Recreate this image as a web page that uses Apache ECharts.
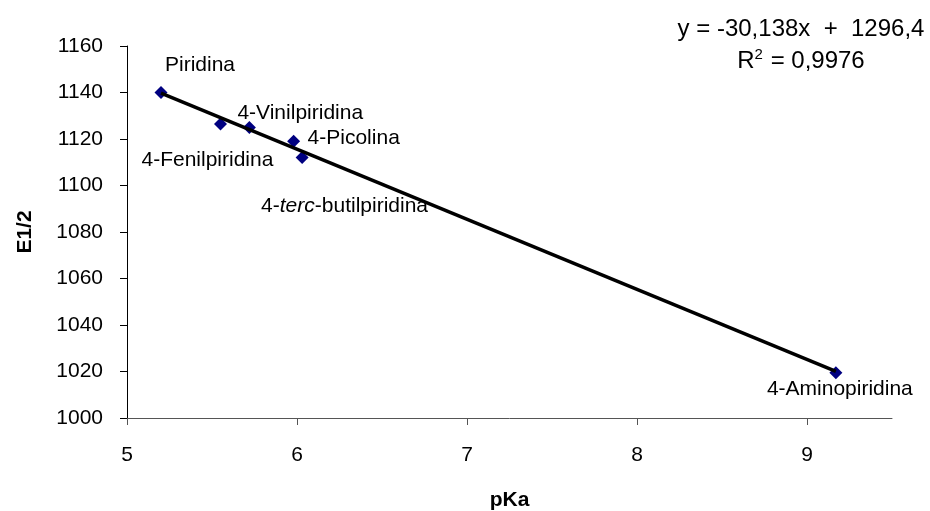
<!DOCTYPE html>
<html><head><meta charset="utf-8">
<script src="https://cdn.jsdelivr.net/npm/echarts@6/dist/echarts.min.js"></script>
<style>html,body{margin:0;padding:0;background:#fff}#c{width:930px;height:511px}</style>
</head><body><div id="c"></div>
<script>
const compounds = ['Piridina','4-Fenilpiridina','4-Vinilpiridina','4-Picolina','4-terc-butilpiridina','4-Aminopiridina'];
const pKa = [5.2, 5.55, 5.72, 5.98, 6.03, 9.17];
const e12 = [1140, 1126.5, 1125, 1119, 1112, 1019.5];
const xTicks = [5, 6, 7, 8, 9];
const slope = -30.138, intercept = 1296.4;
const eqLine1 = 'y = -30,138x  +  1296,4';
const eqLine2 = 'R{sup|2} = 0,9976';
const xName = 'pKa', yName = 'E1/2';

const labelOffsets = [[4,-27],[-79,36],[-12,-14],[14,-3],[-41,49],[-69,17]];
const FONT = 'Liberation Sans, Arial, sans-serif';
const FS = 21;

const pts = compounds.map((n, i) => ({
  value: [pKa[i], e12[i]],
  name: n,
  label: { offset: labelOffsets[i] }
}));
const xmin = Math.min(...pKa), xmax = Math.max(...pKa);
const trend = [[xmin, slope * xmin + intercept], [xmax, slope * xmax + intercept]];

const chart = echarts.init(document.getElementById('c'));
chart.setOption({
  animation: false,
  backgroundColor: '#fff',
  grid: { left: 127, right: 38, top: 46, bottom: 93, containLabel: false, outerBoundsMode: 'none' },
  xAxis: {
    type: 'value', min: 5, max: 9.5, interval: 1,
    name: xName, nameLocation: 'middle', nameGap: 72,
    nameTextStyle: { fontFamily: FONT, fontSize: FS, fontWeight: 'bold', color: '#000' },
    axisLine: { show: true, lineStyle: { color: '#555', width: 1 } },
    axisTick: { show: true, length: 7, customValues: xTicks, lineStyle: { color: '#555' } },
    axisLabel: { customValues: xTicks, margin: 27, fontFamily: FONT, fontSize: FS, color: '#000' },
    splitLine: { show: false }
  },
  yAxis: {
    type: 'value', min: 1000, max: 1160, interval: 20,
    name: yName, nameLocation: 'middle', nameGap: 91, nameRotate: 90,
    nameTextStyle: { fontFamily: FONT, fontSize: FS, fontWeight: 'bold', color: '#000' },
    axisLine: { show: true, lineStyle: { color: '#000', width: 1 } },
    axisTick: { show: true, length: 7, lineStyle: { color: '#000' } },
    axisLabel: { margin: 24, fontFamily: FONT, fontSize: FS, color: '#000', formatter: v => String(v) },
    splitLine: { show: false }
  },
  series: [
    {
      type: 'line', data: trend, symbol: 'none', silent: true, z: 3,
      lineStyle: { color: '#000', width: 3.5 }
    },
    {
      type: 'scatter', data: pts, symbol: 'diamond', symbolSize: 13, z: 2,
      itemStyle: { color: '#000080', opacity: 1 },
      label: {
        show: true, position: 'inside', align: 'left', verticalAlign: 'middle',
        fontFamily: FONT, fontSize: FS, color: '#000',
        formatter: p => p.name === '4-terc-butilpiridina' ? '4-{i|terc}-butilpiridina' : p.name,
        rich: { i: { fontStyle: 'italic', fontFamily: FONT, fontSize: FS, color: '#000' } }
      }
    }
  ],
  graphic: [
    { type: 'text', x: 801, y: 29, style: { text: eqLine1, fontFamily: FONT, fontSize: 24, fill: '#000', align: 'center', verticalAlign: 'middle' } },
    { type: 'text', x: 801, y: 61, style: { text: eqLine2, fontFamily: FONT, fontSize: 24, fill: '#000', align: 'center', verticalAlign: 'middle',
      rich: { sup: { fontFamily: FONT, fontSize: 15, fill: '#000', padding: [0, 1, 12, 0] } } } }
  ]
});
</script></body></html>
